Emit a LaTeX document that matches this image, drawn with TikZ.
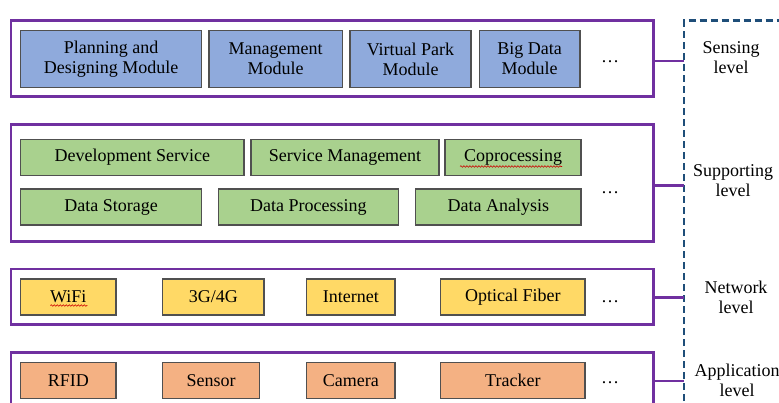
\documentclass[tikz,border=0pt]{standalone}
\usepackage{fontspec}
\setmainfont{Liberation Serif}
\usetikzlibrary{calc,decorations.pathmorphing}
\definecolor{layerpurple}{HTML}{7030A0}
\definecolor{modblue}{HTML}{8FAADC}
\definecolor{srvgreen}{HTML}{A9D18E}
\definecolor{netyellow}{HTML}{FFD966}
\definecolor{devorange}{HTML}{F4B183}
\definecolor{boxedge}{HTML}{505050}
\definecolor{levelblue}{HTML}{1F4E79}
\tikzset{
  every node/.style={font=\fontsize{18}{20}\selectfont, text=black},
  layer/.style={draw=layerpurple, line width=2.6pt, inner sep=0pt},
  unit/.style={draw=boxedge, line width=1.2pt, inner sep=0pt, align=center},
  blueunit/.style={unit, fill=modblue},
  greenunit/.style={unit, fill=srvgreen},
  yellowunit/.style={unit, fill=netyellow},
  orangeunit/.style={unit, fill=devorange},
  link/.style={draw=layerpurple, line width=2.6pt},
  levelline/.style={draw=levelblue, line width=2.6pt, dash pattern=on 7pt off 4pt},
  leveltext/.style={align=center},
  squig/.style={draw=red!80!black, line width=0.6pt, decorate,
                decoration={snake, amplitude=0.8pt, segment length=3pt}}
}
% box given by its corners: style, name, x1, y1, x2, y2, text
\newcommand\cornerbox[7]{%
  \node[#1, minimum width={#5-#3}, minimum height={#6-#4}]
    (#2) at ({(#3+#5)/2},{(#4+#6)/2}) {#7};}
\begin{document}
\begin{tikzpicture}[x=1pt,y=-1pt]
\useasboundingbox (0,0) rectangle (779,403);
\clip (0,0) rectangle (779,403);

% level frames
\cornerbox{layer}{sense}{11}{20.7}{653.3}{96.7}{}
\cornerbox{layer}{support}{11}{124.3}{653.3}{241.7}{}
\cornerbox{layer}{network}{11}{269}{653.3}{324.3}{}
\cornerbox{layer}{app}{11}{352.3}{653.3}{410}{}

% sensing level modules
\cornerbox{blueunit}{plan}{20.7}{30.7}{201.7}{87.3}{Planning and\\Designing Module}
\cornerbox{blueunit}{manage}{209}{30.7}{342.3}{87.3}{Management\\Module}
\cornerbox{blueunit}{vpark}{350}{30.7}{471}{87.3}{Virtual Park\\Module}
\cornerbox{blueunit}{bigdata}{479.3}{30.7}{580}{87.3}{Big Data\\Module}
\node (dots1) at (610,62) {…};

% supporting level services
\cornerbox{greenunit}{devsrv}{20.7}{139.3}{244}{175.7}{Development Service}
\cornerbox{greenunit}{srvman}{251}{139.3}{439}{175.7}{Service Management}
\cornerbox{greenunit}{coproc}{445}{139.3}{581}{175.7}{Coprocessing}
\cornerbox{greenunit}{dstore}{20.7}{189}{201.7}{225}{Data Storage}
\cornerbox{greenunit}{dproc}{218.3}{189}{398.3}{225}{Data Processing}
\cornerbox{greenunit}{danal}{415.7}{189}{581}{225}{Data Analysis}
\node (dots2) at (610,193) {…};

% network level
\cornerbox{yellowunit}{wifi}{20.7}{279}{116}{315}{WiFi}
\cornerbox{yellowunit}{g34}{162.7}{279}{264}{315}{3G/4G}
\cornerbox{yellowunit}{inet}{306.7}{279}{395}{315}{Internet}
\cornerbox{yellowunit}{fiber}{440.7}{279}{585}{315}{Optical Fiber}
\node (dots3) at (610,302) {…};

% application level
\cornerbox{orangeunit}{rfid}{20.7}{362.3}{116}{398.3}{RFID}
\cornerbox{orangeunit}{sensor}{162.7}{362.3}{259.3}{398.3}{Sensor}
\cornerbox{orangeunit}{camera}{306.7}{362.3}{395}{398.3}{Camera}
\cornerbox{orangeunit}{tracker}{440.7}{362.3}{585}{398.3}{Tracker}
\node (dots4) at (610,383) {…};

% spell-check marks
\draw[squig] ($(wifi.center)+(-18,8.5)$) -- ($(wifi.center)+(19,8.5)$);
\draw[squig] ($(coproc.center)+(-53,9)$) -- ($(coproc.center)+(49,9)$);

% dashed level bracket
\coordinate (dtop) at (684,20.5);
\coordinate (dright) at (790,20.5);
\coordinate (dbottom) at (684,412);
\draw[levelline] (dbottom) -- (dtop) -- (dright);

% links from frames to the bracket
\draw[link] (sense.east |- 0,61) -- (dtop |- 0,61);
\draw[link] (support.east |- 0,185.7) -- (dtop |- 0,185.7);
\draw[link] (network.east |- 0,297.7) -- (dtop |- 0,297.7);
\draw[link] (app.east |- 0,381) -- (dtop |- 0,381);

% level names
\node[leveltext] (lsense) at (731,58) {Sensing\\level};
\node[leveltext] (lsupport) at (733,181) {Supporting\\level};
\node[leveltext] (lnet) at (736,297.5) {Network\\level};
\node[leveltext] (lapp) at (737,380) {Application\\level};
\end{tikzpicture}
\end{document}
